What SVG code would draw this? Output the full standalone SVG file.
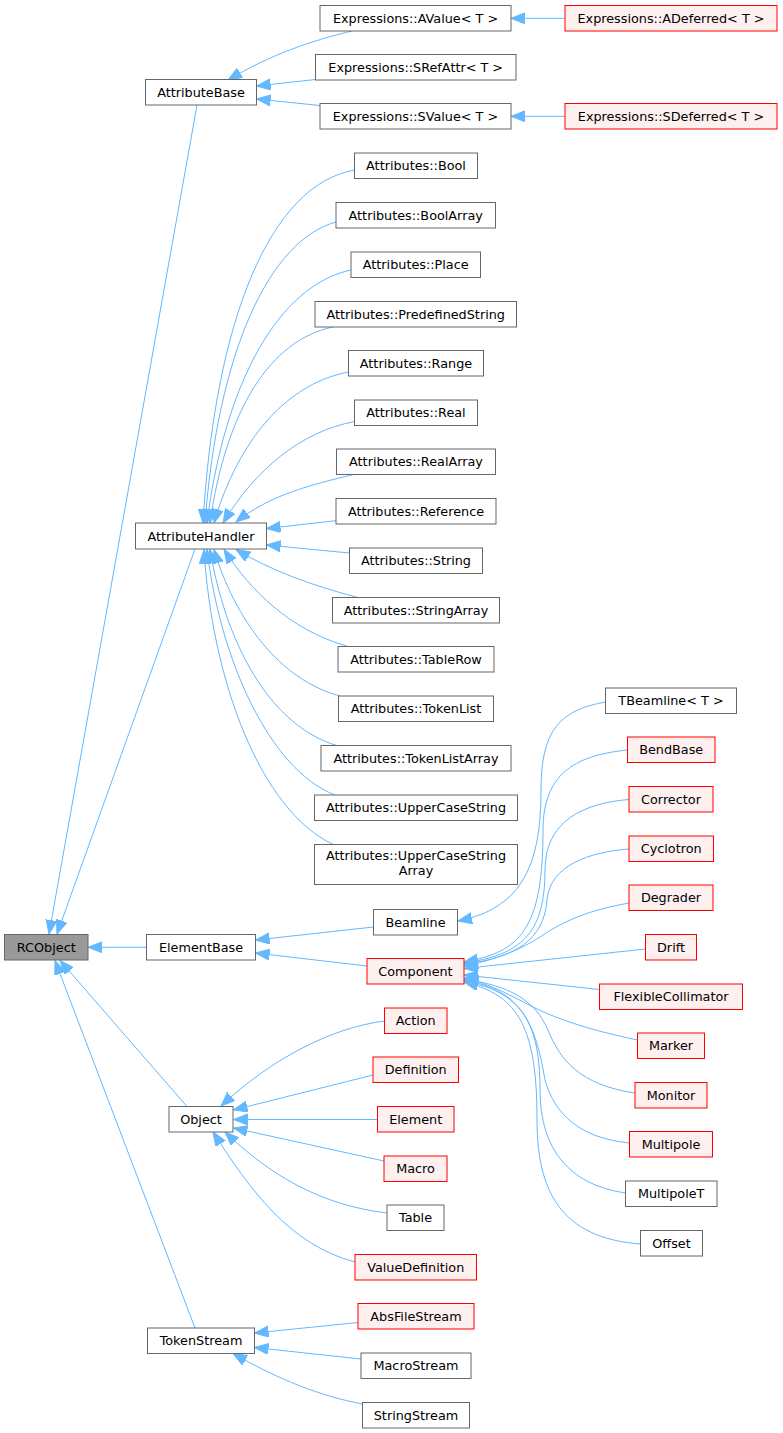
<svg xmlns="http://www.w3.org/2000/svg" width="783" height="1433" viewBox="0 0 783 1433">
<style>
.n rect{fill:#ffffff;stroke:#666666;stroke-width:1}
.r rect{fill:#fff0f0;stroke:#ff0000;stroke-width:1}
.g rect{fill:#999999;stroke:#666666;stroke-width:1}
text{font-family:"DejaVu Sans","Liberation Sans",sans-serif;font-size:12.8px;fill:#000000;text-anchor:middle}
#edges path{fill:none;stroke:#63b8ff;stroke-width:1;marker-end:url(#ah)}
</style>
<defs>
<marker id="ah" markerWidth="15" markerHeight="12" refX="14" refY="5.5" orient="auto" markerUnits="userSpaceOnUse">
<path d="M0,0 L14,5.5 L0,11 Z" fill="#63b8ff" stroke="#63b8ff" stroke-width="1"/>
</marker>
</defs>
<rect width="783" height="1433" fill="#ffffff"/>
<g id="edges">
<path d="M565,18.3 L511,18.3"/>
<path d="M565,116.3 L511,116.3"/>
<path d="M352,31 C310,41 270,55 228,80"/>
<path d="M315.5,79.5 L256.5,86"/>
<path d="M320,105.5 L256.5,99"/>
<path d="M197,105 L49,934"/>
<path d="M195,549 L57,934"/>
<path d="M146.5,947.3 L88,947.3"/>
<path d="M187,1106.5 L60,960.5"/>
<path d="M195,1328 L55,960.5"/>
<path d="M373.5,927 L255.5,940"/>
<path d="M367,966 L255.5,953"/>
<path d="M605.5,702 C560,710 541,730 541,790 C541,860 525,908 458,921"/>
<path d="M627.5,750 C580,755 543,770 543,830 C543,930 520,952 464,962"/>
<path d="M629,799.5 C585,803 545,820 545,870 C545,935 520,955 464,963"/>
<path d="M629,849 C590,852 550,865 547,900 C544,940 515,958 464,964"/>
<path d="M629,903 C590,910 565,920 540,937 C520,950 495,960 464,966"/>
<path d="M645.5,949 L464,968.5"/>
<path d="M599.5,989.5 L464,975"/>
<path d="M637.5,1040 C590,1030 560,1020 535,1008 C510,995 490,984 464,978"/>
<path d="M635,1093 C580,1085 560,1060 548,1030 C535,1000 510,986 464,979"/>
<path d="M629.5,1143 C580,1138 555,1115 545,1080 C535,1020 520,990 464,980"/>
<path d="M625.5,1193 C570,1185 540,1150 540,1090 C540,1020 520,992 464,981"/>
<path d="M640.5,1244 C560,1238 537,1190 537,1120 C537,1030 520,995 464,982"/>
<path d="M384.5,1021 C330,1028 270,1060 221,1106"/>
<path d="M373,1075 L233.5,1110"/>
<path d="M377.5,1119.5 L233.5,1119.5"/>
<path d="M384,1161 L233.5,1128"/>
<path d="M387,1213 C320,1205 270,1175 225,1132"/>
<path d="M355,1262 C290,1245 250,1190 213,1132"/>
<path d="M358,1322.5 L254.5,1333"/>
<path d="M361,1359 L254.5,1347.5"/>
<path d="M362.5,1404 C320,1396 280,1380 233,1353.5"/>
<path d="M354.5,170 C270,185 215,320 203,523"/>
<path d="M336,222 C270,240 218,350 205,523"/>
<path d="M351,270 C280,285 225,380 207,523"/>
<path d="M333,327 C270,340 226,410 210,523"/>
<path d="M348.5,372 C280,385 235,450 214,523"/>
<path d="M354.5,421.5 C300,432 255,470 223,523"/>
<path d="M353,474.7 C310,485 270,495 236,522"/>
<path d="M336,520.7 L266.5,528.5"/>
<path d="M349.5,553 L266.5,545"/>
<path d="M358,597.5 C310,585 270,570 236,549.5"/>
<path d="M346.7,646 C290,630 250,590 224,549.5"/>
<path d="M340,696 C280,680 235,620 214,549.5"/>
<path d="M336.7,745.5 C268,725 225,640 210,549.5"/>
<path d="M335,795 C270,770 220,660 207,549.5"/>
<path d="M333.3,844.5 C260,810 212,680 204,549.5"/>
</g>
<g id="AValue" class="n"><rect x="320" y="5.5" width="191" height="25.5"/><text x="415.5" y="22.5">Expressions::AValue&lt; T &gt;</text></g>
<g id="ADeferred" class="r"><rect x="565" y="5.5" width="212" height="25.5"/><text x="671" y="22.5">Expressions::ADeferred&lt; T &gt;</text></g>
<g id="AttributeBase" class="n"><rect x="145.5" y="79.5" width="111" height="25.5"/><text x="201" y="96.5">AttributeBase</text></g>
<g id="SRefAttr" class="n"><rect x="315.5" y="54.5" width="200.5" height="25.5"/><text x="415.7" y="71.5">Expressions::SRefAttr&lt; T &gt;</text></g>
<g id="SValue" class="n"><rect x="320" y="103.5" width="191" height="25.5"/><text x="415.5" y="120.5">Expressions::SValue&lt; T &gt;</text></g>
<g id="SDeferred" class="r"><rect x="565" y="103.5" width="212" height="25.5"/><text x="671" y="120.5">Expressions::SDeferred&lt; T &gt;</text></g>
<g id="Bool" class="n"><rect x="354.5" y="153" width="123" height="25.5"/><text x="416" y="170">Attributes::Bool</text></g>
<g id="BoolArray" class="n"><rect x="336" y="202.5" width="159.5" height="25.5"/><text x="415.7" y="219.5">Attributes::BoolArray</text></g>
<g id="Place" class="n"><rect x="351" y="252" width="129.5" height="25.5"/><text x="415.7" y="269">Attributes::Place</text></g>
<g id="PredefinedString" class="n"><rect x="315" y="301.5" width="201.5" height="25.5"/><text x="415.7" y="318.5">Attributes::PredefinedString</text></g>
<g id="Range" class="n"><rect x="348.5" y="350.5" width="135" height="25.5"/><text x="416" y="367.5">Attributes::Range</text></g>
<g id="Real" class="n"><rect x="354.5" y="400" width="123" height="25.5"/><text x="416" y="417">Attributes::Real</text></g>
<g id="RealArray" class="n"><rect x="336.5" y="449" width="159" height="25.5"/><text x="416" y="466">Attributes::RealArray</text></g>
<g id="Reference" class="n"><rect x="336" y="498.5" width="160" height="25.5"/><text x="416" y="515.5">Attributes::Reference</text></g>
<g id="String" class="n"><rect x="349.5" y="548" width="133" height="25.5"/><text x="416" y="565">Attributes::String</text></g>
<g id="StringArray" class="n"><rect x="332.5" y="597.5" width="167" height="25.5"/><text x="416" y="614.5">Attributes::StringArray</text></g>
<g id="TableRow" class="n"><rect x="338" y="646.5" width="156" height="25.5"/><text x="416" y="663.5">Attributes::TableRow</text></g>
<g id="TokenList" class="n"><rect x="338.5" y="696" width="155" height="25.5"/><text x="416" y="713">Attributes::TokenList</text></g>
<g id="TokenListArray" class="n"><rect x="321" y="745.5" width="190" height="25.5"/><text x="416" y="762.5">Attributes::TokenListArray</text></g>
<g id="UpperCaseString" class="n"><rect x="314.5" y="795" width="203" height="25.5"/><text x="416" y="812">Attributes::UpperCaseString</text></g>
<g id="UpperCaseStringArray" class="n"><rect x="314.5" y="844.5" width="203" height="40"/><text x="416" y="860">Attributes::UpperCaseString</text><text x="416" y="874.5">Array</text></g>
<g id="AttributeHandler" class="n"><rect x="135.5" y="523" width="131" height="26"/><text x="201" y="540.5">AttributeHandler</text></g>
<g id="RCObject" class="g"><rect x="4.5" y="934.5" width="83.5" height="25.5"/><text x="46.3" y="951.5">RCObject</text></g>
<g id="ElementBase" class="n"><rect x="146.5" y="934.5" width="109" height="25.5"/><text x="201" y="951.5">ElementBase</text></g>
<g id="TBeamline" class="n"><rect x="605.5" y="688" width="131" height="25.5"/><text x="671" y="705">TBeamline&lt; T &gt;</text></g>
<g id="BendBase" class="r"><rect x="627.5" y="737" width="87.5" height="25.5"/><text x="671.2" y="754">BendBase</text></g>
<g id="Corrector" class="r"><rect x="629" y="786.5" width="84" height="25.5"/><text x="671" y="803.5">Corrector</text></g>
<g id="Cyclotron" class="r"><rect x="629" y="836" width="84.5" height="25.5"/><text x="671.2" y="853">Cyclotron</text></g>
<g id="Degrader" class="r"><rect x="629" y="885" width="84" height="25.5"/><text x="671" y="902">Degrader</text></g>
<g id="Beamline" class="n"><rect x="373.5" y="909.5" width="84" height="25.5"/><text x="415.5" y="926.5">Beamline</text></g>
<g id="Drift" class="r"><rect x="645.5" y="934.5" width="51" height="25.5"/><text x="671" y="951.5">Drift</text></g>
<g id="Component" class="r"><rect x="367" y="958.5" width="97" height="25.5"/><text x="415.5" y="975.5">Component</text></g>
<g id="FlexibleCollimator" class="r"><rect x="599.5" y="984" width="143" height="25.5"/><text x="671" y="1001">FlexibleCollimator</text></g>
<g id="Action" class="r"><rect x="384.5" y="1008" width="62.5" height="25.5"/><text x="415.7" y="1025">Action</text></g>
<g id="Marker" class="r"><rect x="637.5" y="1033" width="67" height="25.5"/><text x="671" y="1050">Marker</text></g>
<g id="Definition" class="r"><rect x="373" y="1057" width="85.5" height="25.5"/><text x="415.7" y="1074">Definition</text></g>
<g id="Monitor" class="r"><rect x="635" y="1082.5" width="72" height="25.5"/><text x="671" y="1099.5">Monitor</text></g>
<g id="Object" class="n"><rect x="169" y="1106.5" width="64" height="25.5"/><text x="201" y="1123.5">Object</text></g>
<g id="Element" class="r"><rect x="377.5" y="1106.5" width="76.5" height="25.5"/><text x="415.7" y="1123.5">Element</text></g>
<g id="Multipole" class="r"><rect x="629.5" y="1131.5" width="83" height="25.5"/><text x="671" y="1148.5">Multipole</text></g>
<g id="Macro" class="r"><rect x="384" y="1156" width="63" height="25.5"/><text x="415.5" y="1173">Macro</text></g>
<g id="MultipoleT" class="n"><rect x="625.5" y="1181" width="91.5" height="25.5"/><text x="671.2" y="1198">MultipoleT</text></g>
<g id="Table" class="n"><rect x="387" y="1205" width="57" height="25.5"/><text x="415.5" y="1222">Table</text></g>
<g id="Offset" class="n"><rect x="640.5" y="1230.5" width="62" height="25.5"/><text x="671.5" y="1247.5">Offset</text></g>
<g id="ValueDefinition" class="r"><rect x="355" y="1254.5" width="121.5" height="25.5"/><text x="415.7" y="1271.5">ValueDefinition</text></g>
<g id="AbsFileStream" class="r"><rect x="358" y="1303.5" width="116" height="25.5"/><text x="416" y="1320.5">AbsFileStream</text></g>
<g id="TokenStream" class="n"><rect x="147.5" y="1328" width="107" height="25.5"/><text x="201" y="1345">TokenStream</text></g>
<g id="MacroStream" class="n"><rect x="361" y="1353" width="110" height="25.5"/><text x="416" y="1370">MacroStream</text></g>
<g id="StringStream" class="n"><rect x="362.5" y="1402.5" width="107" height="25.5"/><text x="416" y="1419.5">StringStream</text></g>
</svg>
